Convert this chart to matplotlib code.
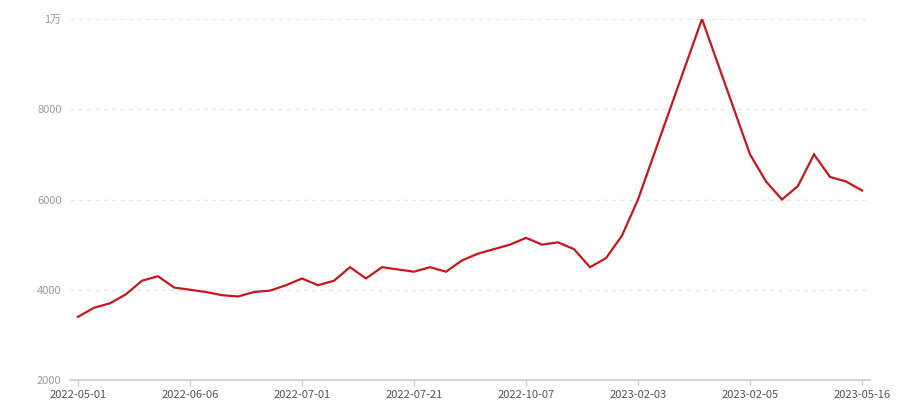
import matplotlib
matplotlib.use("Agg")
import matplotlib.pyplot as plt

plt.rcParams['font.family'] = ['Noto Sans CJK SC', 'DejaVu Sans']

# ------------------- DATA -------------------
values = [
    3400, 3600, 3700, 3900, 4200, 4300, 4050, 4000, 3950, 3880,
    3850, 3950, 3980, 4100, 4250, 4100, 4200, 4500, 4250, 4500,
    4450, 4400, 4500, 4400, 4650, 4800, 4900, 5000, 5150, 5000,
    5050, 4900, 4500, 4700, 5200, 6000, 7000, 8000, 9000, 10000,
    9000, 8000, 7000, 6400, 6000, 6300, 7000, 6500, 6400, 6200,
]
tick_labels = ["2022-05-01", "2022-06-06", "2022-07-01", "2022-07-21",
               "2022-10-07", "2023-02-03", "2023-02-05", "2023-05-16"]
y_ticks = [2000, 4000, 6000, 8000, 10000]
y_tick_labels = ["2000", "4000", "6000", "8000", "1万"]
LABEL_STEP = 7
# --------------------------------------------

fig = plt.figure(figsize=(9, 4), dpi=100)
ax = fig.add_axes([70 / 900, 1 - 380 / 400, 800 / 900, 361 / 400])

x = list(range(len(values)))
ax.plot(x, values, color="#c8161e", linewidth=1.6, solid_joinstyle="miter")

ax.set_xlim(-0.5, len(values) - 0.5)
ax.set_ylim(y_ticks[0], y_ticks[-1])

ax.set_xticks(list(range(0, len(values), LABEL_STEP)))
ax.set_xticklabels(tick_labels, fontsize=8, color="#555555")
ax.set_yticks(y_ticks)
ax.set_yticklabels(y_tick_labels, fontsize=8, color="#9a9a9a")

ax.tick_params(axis="x", length=4, width=1, color="#cccccc", pad=3)
ax.tick_params(axis="y", length=0, pad=6)

# dashed horizontal guides
for v in y_ticks[1:]:
    ax.axhline(v, color="#e8e8e8", linewidth=1, linestyle=(0, (3, 3)), zorder=0)

for side in ["top", "right", "left"]:
    ax.spines[side].set_visible(False)
ax.spines["bottom"].set_color("#cccccc")
ax.spines["bottom"].set_linewidth(1.2)

fig.savefig("out.png", dpi=100)
